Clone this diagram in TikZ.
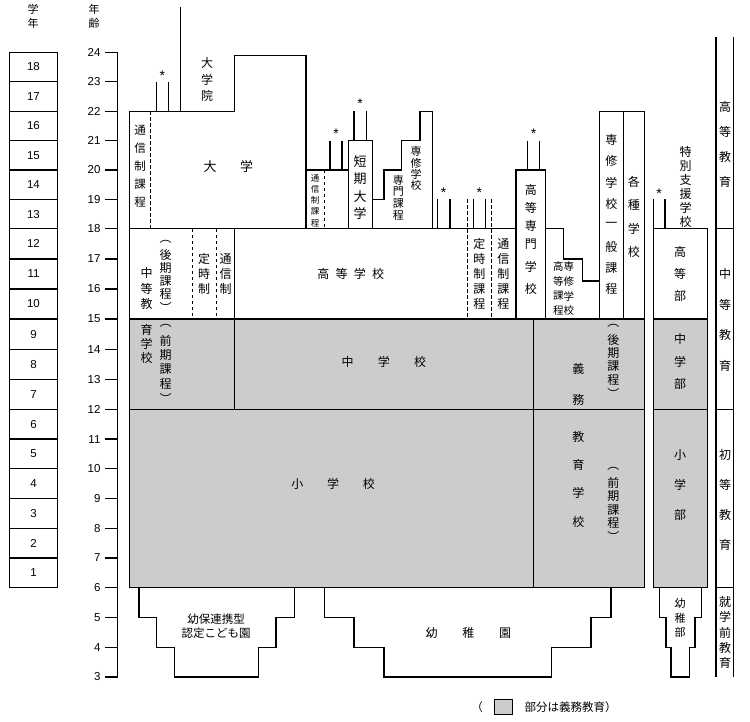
\documentclass[tikz,border=0pt]{standalone}
\usepackage{fontspec}
\newfontfamily\jpf{Noto Sans CJK JP}
\newfontfamily\numf{Liberation Sans}
\definecolor{oblig}{RGB}{204,204,204}
\tikzset{
  t/.style={inner sep=0pt, font=\jpf\fontsize{12}{14}\selectfont},
  ts/.style={font=\jpf\fontsize{11}{13}\selectfont},
  tx/.style={font=\jpf\fontsize{8.5}{10}\selectfont},
  num/.style={inner sep=0pt, font=\numf\fontsize{11.5}{13}\selectfont},
  star/.style={inner sep=0pt, font=\numf\fontsize{14}{16}\selectfont},
  dsh/.style={line width=0.9pt, dash pattern=on 3.5pt off 2.5pt},
}
\newcommand\vchars[6][]{\foreach \jch [count=\i from 0] in {#6} {\node[t,#1] (#2\i) at (#3,{#4+\i*#5}) {\jch};}}
\newcommand\hchars[6][]{\foreach \jch [count=\i from 0] in {#6} {\node[t,#1] (#2\i) at ({#3+\i*#5},#4) {\jch};}}
\begin{document}
\begin{tikzpicture}[x=1pt,y=-1pt,line width=1.2pt,
  declare function={Y(\a)=(\a>=18)*(228.8-(\a-18)*29.42)+(\a<18)*(\a>=12)*(409.3-(\a-12)*30.08)+(\a<12)*(587.7-(\a-6)*29.73);}]
\useasboundingbox (0,0) rectangle (750,721);
\fill[white] (0,0) rectangle (750,721);

% shaded compulsory parts
\fill[oblig] (129.7,{Y(15)}) rectangle (644.3,{Y(6)});
\fill[oblig] (653.3,{Y(15)}) rectangle (707.3,{Y(6)});

% grade boxes
\foreach \g in {1,...,18} {
  \draw (9.3,{Y(\g+5)}) rectangle (57.7,{Y(\g+6)});
  \node[num] (g\g) at (33.5,{(Y(\g+5)+Y(\g+6))/2}) {\g};
}
% age axis
\draw (117.7,{Y(24)}) -- (117.7,{Y(3)});
\foreach \a in {3,...,24} {
  \draw (105,{Y(\a)}) -- (117.7,{Y(\a)});
  \node[num,anchor=east] (a\a) at (101,{Y(\a)}) {\a};
}
\vchars[ts]{hA}{33}{9.3}{13.7}{学,年}
\vchars[ts]{hB}{94}{9.3}{14}{年,齢}

% university and graduate school
\draw (129.7,{Y(6)}) -- (129.7,{Y(22)}) -- (234.3,{Y(22)}) -- (234.3,55.7) -- (305.9,55.7) -- (305.9,{Y(18)});
\draw (180.5,{Y(22)}) -- (180.5,7.3);
\draw (156.7,{Y(22)}) -- (156.7,{Y(23)});
\draw (168.3,{Y(22)}) -- (168.3,{Y(23)});
\draw[dsh] (150.7,{Y(22)}) -- (150.7,{Y(18)});

% line at age 18
\draw (129.7,{Y(18)}) -- (516,{Y(18)});
\draw (545.7,{Y(18)}) -- (563.3,{Y(18)}) -- (563.3,{Y(17)}) -- (582.3,{Y(17)}) -- (582.3,281) -- (599.3,281);

% junior college
\draw (305.9,{Y(20)}) -- (348.3,{Y(20)});
\draw (348.3,{Y(18)}) -- (348.3,{Y(21)}) -- (372.3,{Y(21)}) -- (372.3,{Y(18)});
\draw[dsh] (324,{Y(20)}) -- (324,{Y(18)});
\draw (330,{Y(20)}) -- (330,{Y(21)});
\draw (342,{Y(20)}) -- (342,{Y(21)});
\draw (354,{Y(21)}) -- (354,{Y(22)});
\draw (366.3,{Y(21)}) -- (366.3,{Y(22)});

% specialized training college
\draw (372.3,{Y(19)}) -- (384,{Y(19)}) -- (384,{Y(20)}) -- (401.7,{Y(20)}) -- (401.7,{Y(21)}) -- (420,{Y(21)}) -- (420,{Y(22)}) -- (432.3,{Y(22)}) -- (432.3,{Y(18)});
\draw (437.7,{Y(18)}) -- (437.7,{Y(19)});
\draw (450,{Y(18)}) -- (450,{Y(19)});
\draw (473.3,{Y(18)}) -- (473.3,{Y(19)});
\draw (485.7,{Y(18)}) -- (485.7,{Y(19)});
\draw[dsh] (467.7,{Y(19)}) -- (467.7,{Y(15)});
\draw[dsh] (491.7,{Y(19)}) -- (491.7,{Y(15)});

% college of technology
\draw (516,{Y(15)}) -- (516,{Y(20)}) -- (545.7,{Y(20)}) -- (545.7,{Y(15)});
\draw (527.7,{Y(20)}) -- (527.7,{Y(21)});
\draw (539.3,{Y(20)}) -- (539.3,{Y(21)});

% general course / miscellaneous schools
\draw (599.3,{Y(15)}) rectangle (644.3,{Y(22)});
\draw (623.3,{Y(22)}) -- (623.3,{Y(15)});

% lower blocks
\draw (129.7,{Y(15)}) rectangle (644.3,{Y(6)});
\draw (129.7,{Y(12)}) -- (644.3,{Y(12)});
\draw (234.3,{Y(18)}) -- (234.3,{Y(12)});
\draw[dsh] (192.7,{Y(18)}) -- (192.7,{Y(15)});
\draw[dsh] (216.7,{Y(18)}) -- (216.7,{Y(15)});
\draw (533.3,{Y(15)}) -- (533.3,{Y(6)});

% special needs school
\draw (653.3,{Y(18)}) rectangle (707.3,{Y(6)});
\draw (653.3,{Y(15)}) -- (707.3,{Y(15)});
\draw (653.3,{Y(12)}) -- (707.3,{Y(12)});
\draw (653.3,{Y(18)}) -- (653.3,{Y(19)});
\draw (665,{Y(18)}) -- (665,{Y(19)});

% right column
\draw (716,37.3) -- (716,{Y(3)});
\draw (733.3,37.3) -- (733.3,{Y(3)});
\foreach \a in {18,12,6} \draw (716,{Y(\a)}) -- (733.3,{Y(\a)});

% preschool
\draw (139,{Y(6)}) -- (139,{Y(5)}) -- (156.7,{Y(5)}) -- (156.7,{Y(4)}) -- (174.7,{Y(4)}) -- (174.7,{Y(3)}) -- (258.3,{Y(3)}) -- (258.3,{Y(4)}) -- (276,{Y(4)}) -- (276,{Y(5)}) -- (294.3,{Y(5)}) -- (294.3,{Y(6)});
\draw (324.3,{Y(6)}) -- (324.3,{Y(5)}) -- (354,{Y(5)}) -- (354,{Y(4)}) -- (384,{Y(4)}) -- (384,{Y(3)}) -- (551.7,{Y(3)}) -- (551.7,{Y(4)}) -- (591,{Y(4)}) -- (591,{Y(5)}) -- (611,{Y(5)}) -- (611,{Y(6)});
\draw (659.3,{Y(6)}) -- (659.3,{Y(5)}) -- (666,{Y(5)}) -- (666,{Y(4)}) -- (671,{Y(4)}) -- (671,{Y(3)}) -- (689.3,{Y(3)}) -- (689.3,{Y(4)}) -- (695,{Y(4)}) -- (695,{Y(5)}) -- (701.7,{Y(5)}) -- (701.7,{Y(6)});

% asterisks
\foreach \x/\y [count=\k] in {162.3/75.5,336/133.5,360/104,443.7/192.5,479.3/192.5,533.5/133.5,659.2/193.5}
  \node[star] (st\k) at (\x,\y) {*};

% texts
\vchars{tDG}{207}{63}{16.5}{大,学,院}
\hchars[font=\jpf\fontsize{13}{15}\selectfont]{tU}{210}{166.7}{36.7}{大,学}
\vchars[font=\jpf\fontsize{11.5}{13}\selectfont]{tUC}{140}{130}{18.1}{通,信,制,課,程}
\vchars[tx]{tJC}{315}{178}{11.3}{通,信,制,課,程}
\vchars[font=\jpf\fontsize{13}{15}\selectfont]{tJ}{360}{161.7}{17.2}{短,期,大,学}
\vchars[ts]{tSP}{398.3}{180}{11.7}{専,門,課,程}
\vchars[ts]{tSS}{416}{151.7}{11.3}{専,修,学,校}
\hchars{tHS}{323.3}{274}{18.3}{高,等,学,校}
\vchars{tHT}{479.3}{244}{15}{定,時,制,課,程}
\vchars{tHC}{503.3}{244}{15}{通,信,制,課,程}
\vchars{tK}{530.8}{190}{18}{高,等,専,門}
\vchars{tKb}{530.8}{266.5}{22.5}{学,校}
\vchars[font=\jpf\fontsize{10.5}{12}\selectfont]{tKS}{558.3}{266.7}{14.7}{高,等,課,程}
\vchars[font=\jpf\fontsize{10.5}{12}\selectfont]{tKT}{568.8}{266.7}{14.7}{専,修,学,校}
\vchars{tG}{611.3}{140}{21.3}{専,修,学,校,一,般,課,程}
\vchars{tV}{633.8}{181.7}{23.5}{各,種,学,校}
\vchars{tSN}{685.7}{151.7}{14}{特,別,支,援,学,校}
\vchars{tRH}{725}{106.7}{25}{高,等,教,育}
\vchars{tM1}{146.7}{273.3}{15.5}{中,等,教}
\vchars{tM2}{146.7}{330}{14}{育,学,校}
\vchars{tM3}{165.7}{241.7}{13.1}{︵,後,期,課,程,︶}
\vchars{tM4}{165.7}{326}{14.5}{︵,前,期,課,程,︶}
\vchars{tM5}{204}{259}{15}{定,時,制}
\vchars{tM6}{225.7}{259}{15}{通,信,制}
\hchars{tJH}{347.7}{362.3}{36.2}{中,学,校}
\hchars{tE}{297.3}{484.3}{35.8}{小,学,校}
\vchars{tO1}{578.3}{369.3}{30.7}{義,務}
\vchars{tO2}{578.3}{436.7}{28.3}{教,育,学,校}
\vchars{tO3}{613.3}{326}{13.5}{︵,後,期,課,程,︶}
\vchars{tO4}{613.3}{469.3}{13.5}{︵,前,期,課,程,︶}
\vchars{tS1}{680}{252.3}{21.8}{高,等,部}
\vchars{tS2}{680}{339}{22.7}{中,学,部}
\vchars{tS3}{680}{455}{30}{小,学,部}
\vchars{tR2}{725}{274}{30.6}{中,等,教,育}
\vchars{tR3}{725}{455}{30}{初,等,教,育}
\vchars{tR4}{725}{601.7}{15.4}{就,学,前,教,育}
\vchars[ts]{tS4}{680}{603.3}{14.7}{幼,稚,部}
\node[t,font=\jpf\fontsize{11.5}{13}\selectfont] (nk1) at (216,619) {幼保連携型};
\node[t,font=\jpf\fontsize{11.5}{13}\selectfont] (nk2) at (216,633.3) {認定こども園};
\hchars{tKG}{431.7}{633.3}{36.7}{幼,稚,園}

% legend
\node[t,font=\jpf\fontsize{11.5}{13}\selectfont] (lp) at (477,706.7) {（};
\draw[fill=oblig,line width=1pt] (494.3,699.3) rectangle (512.7,714);
\node[t,font=\jpf\fontsize{11.5}{13}\selectfont,anchor=west] (lt) at (524,706.7) {部分は義務教育）};
\end{tikzpicture}
\end{document}
